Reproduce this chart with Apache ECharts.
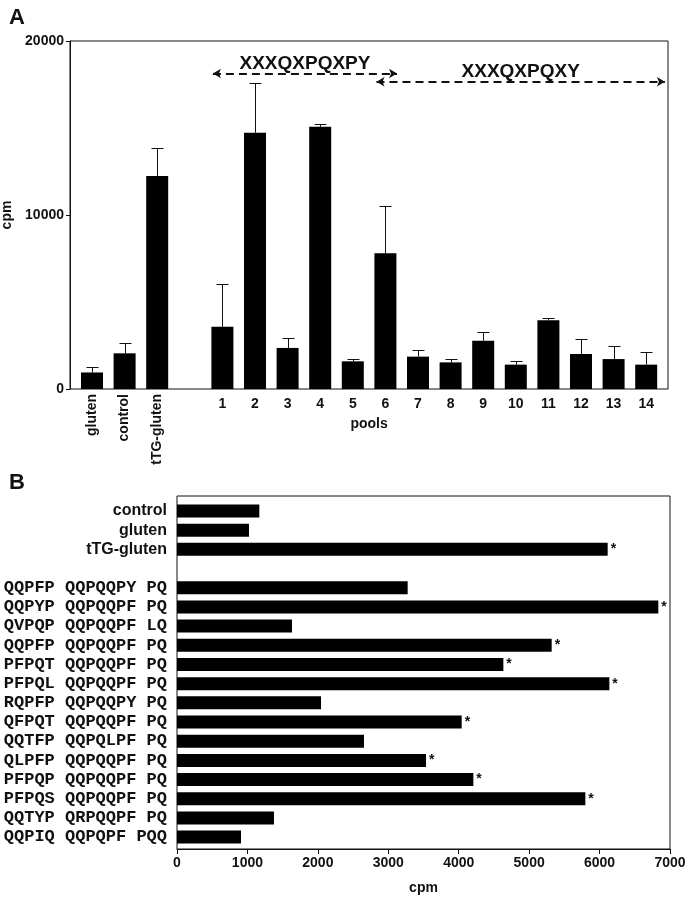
<!DOCTYPE html>
<html>
<head>
<meta charset="utf-8">
<script src="https://cdn.jsdelivr.net/npm/echarts@6/dist/echarts.min.js"></script>
<style>
html,body{margin:0;padding:0;background:#fff;}
#c{width:688px;height:899px;}
</style>
</head>
<body>
<div id="c"></div>
<script>
// ---------- Panel A data ----------
var aCategories = ['gluten', 'control', 'tTG-gluten', '', '1', '2', '3', '4', '5', '6', '7', '8', '9', '10', '11', '12', '13', '14'];
var aValues = [950, 2050, 12240, null, 3580, 14730, 2360, 15070, 1590, 7800, 1860, 1530, 2780, 1400, 3950, 2010, 1720, 1400];
var aErrors = [330, 610, 1610, null, 2450, 2840, 570, 160, 150, 2720, 380, 190, 480, 190, 130, 850, 750, 710];
var motifLabels = ['XXXQXPQXPY', 'XXXQXPQXY'];
var motifFrom = [3.71, 8.73];
var motifTo = [9.36, 17.58];
var motifLevel = [18130, 17660];

// ---------- Panel B data ----------
var bCategories = ['control', 'gluten', 'tTG-gluten', '',
  'QQPFP QQPQQPY PQ', 'QQPYP QQPQQPF PQ', 'QVPQP QQPQQPF LQ', 'QQPFP QQPQQPF PQ',
  'PFPQT QQPQQPF PQ', 'PFPQL QQPQQPF PQ', 'RQPFP QQPQQPY PQ', 'QFPQT QQPQQPF PQ',
  'QQTFP QQPQLPF PQ', 'QLPFP QQPQQPF PQ', 'PFPQP QQPQQPF PQ', 'PFPQS QQPQQPF PQ',
  'QQTYP QRPQQPF PQ', 'QQPIQ QQPQPF PQQ'];
var bValues = [1169, 1022, 6115, null, 3275, 6834, 1633, 5320, 4634, 6139, 2045, 4042, 2655, 3536, 4208, 5798, 1377, 909];
var bSignificant = [false, false, true, false, false, true, false, true, true, true, false, true, false, true, true, true, false, false];

var FONT = "'Liberation Sans', Arial, Helvetica, sans-serif";
var MONO = "'Courier New', 'Liberation Mono', monospace";
var INK = '#111';

var aBarData = aValues.map(function (v) { return v === null ? '-' : v; });
var aErrData = [];
aValues.forEach(function (v, i) {
  if (v !== null) aErrData.push([i, v, v + aErrors[i]]);
});
var bBarData = bValues.map(function (v, i) {
  return v === null ? '-' : { value: v, star: bSignificant[i] };
});

var motifLines = motifLabels.map(function (t, k) {
  return [
    { coord: [motifFrom[k], motifLevel[k]], label: { formatter: t } },
    { coord: [motifTo[k], motifLevel[k]] }
  ];
});

var chart = echarts.init(document.getElementById('c'), null, { renderer: 'canvas' });
var hidden = { show: false };
var plain = function (v) { return String(v); };
var G = { outerBoundsMode: 'none', containLabel: false };
function grid(o) { return Object.assign({}, G, o); }

var option = {
  animation: false,
  backgroundColor: '#fff',
  title: [
    { text: 'A', left: 4, top: 2, textStyle: { fontFamily: FONT, fontWeight: 'bold', fontSize: 22, color: INK } },
    { text: 'B', left: 4, top: 467, textStyle: { fontFamily: FONT, fontWeight: 'bold', fontSize: 22, color: INK } }
  ],
  grid: [
    grid({ left: 70, top: 41, width: 598, height: 348, show: true, borderColor: INK, borderWidth: 1, backgroundColor: 'transparent' }),
    grid({ left: 75.7, top: 41, width: 586.8, height: 348 }),
    grid({ left: 75.7, top: 41, width: 586.8, height: 348 }),
    grid({ left: 177, top: 496, width: 493, height: 353, show: true, borderColor: INK, borderWidth: 1, backgroundColor: 'transparent' }),
    grid({ left: 177, top: 501.4, width: 493, height: 345.3 })
  ],
  xAxis: [
    { gridIndex: 0, type: 'value', min: -0.675, max: 17.675, show: false },
    { gridIndex: 1, type: 'category', data: aCategories,
      axisLine: hidden, axisTick: hidden, splitLine: hidden,
      axisLabel: { interval: 0, rotate: 90, margin: 5, fontFamily: FONT, fontWeight: 'bold', fontSize: 14, color: INK,
        formatter: function (v, i) { return i < 3 ? v : ''; } } },
    { gridIndex: 2, type: 'category', data: aCategories,
      axisLine: hidden, axisTick: hidden, splitLine: hidden,
      name: 'pools', nameLocation: 'middle', nameGap: 28,
      nameTextStyle: { fontFamily: FONT, fontWeight: 'bold', fontSize: 14, color: INK },
      axisLabel: { interval: 0, margin: 8, fontFamily: FONT, fontWeight: 'bold', fontSize: 14, color: INK,
        formatter: function (v, i) { return i > 3 ? v : ''; } } },
    { gridIndex: 3, type: 'value', min: 0, max: 7000, interval: 1000,
      axisLine: { show: true, onZero: false, lineStyle: { color: INK, width: 1 } },
      axisTick: { show: true, inside: false, length: 5, lineStyle: { color: INK } },
      splitLine: hidden,
      name: 'cpm', nameLocation: 'middle', nameGap: 32,
      nameTextStyle: { fontFamily: FONT, fontWeight: 'bold', fontSize: 14, color: INK },
      axisLabel: { margin: 7, fontFamily: FONT, fontWeight: 'bold', fontSize: 14, color: INK, formatter: plain } },
    { gridIndex: 4, type: 'value', min: 0, max: 7000, show: false }
  ],
  yAxis: [
    { gridIndex: 0, type: 'value', min: 0, max: 20000, interval: 10000,
      axisLine: { show: true, onZero: false, lineStyle: { color: INK, width: 1 } },
      axisTick: { show: true, inside: false, length: 4, lineStyle: { color: INK } },
      splitLine: hidden,
      name: 'cpm', nameLocation: 'middle', nameGap: 52, nameRotate: 90,
      nameTextStyle: { fontFamily: FONT, fontWeight: 'bold', fontSize: 14, color: INK },
      axisLabel: { margin: 6, fontFamily: FONT, fontWeight: 'bold', fontSize: 14, color: INK, formatter: plain } },
    { gridIndex: 1, type: 'value', min: 0, max: 20000, show: false },
    { gridIndex: 2, type: 'value', min: 0, max: 20000, show: false },
    { gridIndex: 3, type: 'value', min: 0, max: 1, show: false },
    { gridIndex: 4, type: 'category', inverse: true, data: bCategories,
      axisLine: hidden, axisTick: hidden, splitLine: hidden,
      axisLabel: { interval: 0, margin: 10, color: INK,
        formatter: function (v, i) {
          if (!v) return '';
          return i < 3 ? '{s|' + v + '}' : '{m|' + v + '}';
        },
        rich: {
          s: { fontFamily: FONT, fontWeight: 'bold', fontSize: 16, color: INK },
          m: { fontFamily: MONO, fontWeight: 'bold', fontSize: 17, color: INK }
        } } }
  ],
  series: [
    { type: 'scatter', xAxisIndex: 0, yAxisIndex: 0, data: [], silent: true,
      markLine: {
        silent: true, symbol: ['arrow', 'arrow'], symbolSize: [7, 8],
        lineStyle: { color: INK, width: 2, type: [8, 5] },
        label: { show: true, position: 'insideMiddleTop', distance: 0,
          fontFamily: FONT, fontWeight: 'bold', fontSize: 19, color: INK },
        data: motifLines
      } },
    { type: 'bar', xAxisIndex: 1, yAxisIndex: 1, data: aBarData, barWidth: 22,
      itemStyle: { color: '#000' }, silent: true },
    { type: 'custom', xAxisIndex: 1, yAxisIndex: 1, data: aErrData, silent: true,
      encode: { x: 0, y: [1, 2] },
      renderItem: function (params, api) {
        var base = api.coord([api.value(0), api.value(1)]);
        var top = api.coord([api.value(0), api.value(2)]);
        var x = Math.round(base[0]) + 0.5;
        var ty = Math.round(top[1]) + 0.5;
        return { type: 'group', children: [
          { type: 'line', shape: { x1: x, y1: base[1], x2: x, y2: ty }, style: { stroke: INK, lineWidth: 1 } },
          { type: 'line', shape: { x1: x - 6, y1: ty, x2: x + 6, y2: ty }, style: { stroke: INK, lineWidth: 1 } }
        ] };
      } },
    { type: 'bar', xAxisIndex: 4, yAxisIndex: 4, data: bBarData, barWidth: 13,
      itemStyle: { color: '#000' }, silent: true,
      label: { show: true, position: 'right', distance: 3,
        fontFamily: FONT, fontWeight: 'bold', fontSize: 14, color: INK,
        formatter: function (p) { return p.data && p.data.star ? '*' : ''; } } }
  ]
};
chart.setOption(option);
</script>
</body>
</html>
